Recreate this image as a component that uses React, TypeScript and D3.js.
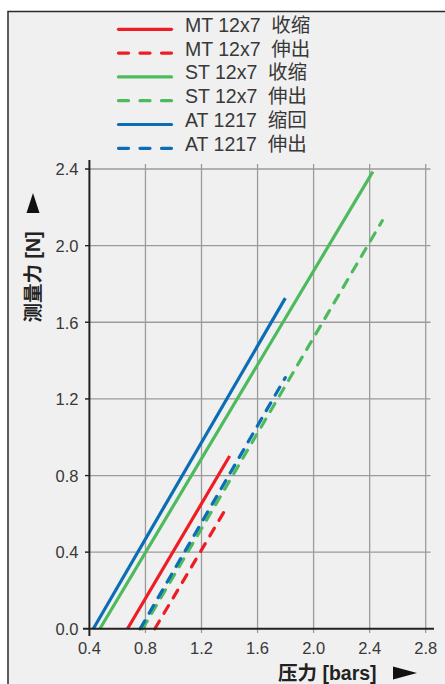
import React from "react";
import * as d3 from "d3";

const seriesNames = ["MT 12x7  收缩", "MT 12x7  伸出", "ST 12x7  收缩", "ST 12x7  伸出", "AT 1217  缩回", "AT 1217  伸出"];
const seriesColors = ["#ee1c25", "#ee1c25", "#4dba5e", "#4dba5e", "#0a6db5", "#0a6db5"];
const seriesDashed = [false, true, false, true, false, true];
const xStart = [0.672, 0.867, 0.475, 0.78, 0.428, 0.762];
const yStart = [0, 0, 0, 0, 0, 0];
const xEnd = [1.401, 1.378, 2.423, 2.49, 1.798, 1.798];
const yEnd = [0.902, 0.632, 2.386, 2.13, 1.726, 1.311];

const xTicks = [0.4, 0.8, 1.2, 1.6, 2.0, 2.4, 2.8];
const yTicks = [0.0, 0.4, 0.8, 1.2, 1.6, 2.0, 2.4];

const W = 445;
const H = 684;

export default function App() {
  const x = d3.scaleLinear().domain([0.4, 2.8]).range([89.4, 425.7]);
  const y = d3.scaleLinear().domain([0, 2.4]).range([628.8, 169]);
  const line = d3
    .line<[number, number]>()
    .x((d) => x(d[0]))
    .y((d) => y(d[1]));

  const font = "'Liberation Sans', Arial, sans-serif";
  const cjk = "'Liberation Sans', 'Noto Sans CJK SC', sans-serif";
  const gridColor = "#9b9b9b";
  const axisColor = "#222";
  const textColor = "#383838";

  const legendY = (i: number) => 29.3 + i * 23.8;

  return (
    <svg width={W} height={H} style={{ position: "absolute", left: 0, top: 0 }}>
      <rect x={0} y={0} width={W} height={H} fill="#fff" />
      <rect x={8} y={11.5} width={W + 10} height={H + 10} fill="#f0f0f0" stroke="#2a2a2a" strokeWidth={1.5} />

      {/* legend */}
      {seriesNames.map((name, i) => (
        <g key={name}>
          <line
            x1={118.5}
            x2={171.5}
            y1={legendY(i)}
            y2={legendY(i)}
            stroke={seriesColors[i]}
            strokeWidth={3.2}
            strokeLinecap="round"
            strokeDasharray={seriesDashed[i] ? "10 11.5" : undefined}
          />
          <text
            x={185}
            y={legendY(i) + 2.4}
            fontFamily={cjk}
            fontSize={19.5}
            fill={textColor}
            style={{ whiteSpace: "pre" }}
          >
            {name}
          </text>
        </g>
      ))}

      {/* grid */}
      {xTicks.slice(1).map((t) => (
        <line key={"vx" + t} x1={x(t)} x2={x(t)} y1={164} y2={633} stroke={gridColor} strokeWidth={1.3} />
      ))}
      {yTicks.slice(1).map((t) => (
        <line key={"hy" + t} x1={85} x2={430.5} y1={y(t)} y2={y(t)} stroke={gridColor} strokeWidth={1.3} />
      ))}
      {yTicks.slice(1).map((t) => (
        <line key={"ty" + t} x1={85} x2={89} y1={y(t)} y2={y(t)} stroke={axisColor} strokeWidth={1.3} />
      ))}

      {/* series */}
      {seriesNames.map((name, i) => (
        <path
          key={"s" + i}
          d={line([
            [xStart[i], yStart[i]],
            [xEnd[i], yEnd[i]],
          ]) || ""}
          fill="none"
          stroke={seriesColors[i]}
          strokeWidth={3.2}
          strokeLinecap={seriesDashed[i] ? "round" : "butt"}
          strokeDasharray={seriesDashed[i] ? "9 9" : undefined}
        />
      ))}

      {/* axes */}
      <line x1={x(0.4)} x2={x(0.4)} y1={160} y2={636} stroke={axisColor} strokeWidth={2} />
      <line x1={83} x2={434} y1={y(0)} y2={y(0)} stroke={axisColor} strokeWidth={2} />

      {/* tick labels */}
      {yTicks.map((t) => (
        <text
          key={"yl" + t}
          x={78.5}
          y={y(t) + 6.3}
          textAnchor="end"
          fontFamily={font}
          fontSize={16.5}
          fill={textColor}
        >
          {d3.format(".1f")(t)}
        </text>
      ))}
      {xTicks.map((t) => (
        <text
          key={"xl" + t}
          x={x(t)}
          y={653.5}
          textAnchor="middle"
          fontFamily={font}
          fontSize={16.5}
          fill={textColor}
        >
          {d3.format(".1f")(t)}
        </text>
      ))}

      {/* x axis title */}
      <text x={278} y={679.5} fontFamily={cjk} fontSize={19.5} fontWeight="bold" fill="#222">
        压力 [bars]
      </text>
      <path d="M393,666.5 L417,673 L393,679.5 Z" fill="#111" />

      {/* y axis title */}
      <text
        transform="translate(40,322.5) rotate(-90)"
        fontFamily={cjk}
        fontSize={19.5}
        fontWeight="bold"
        fill="#222"
      >
        测量力 [N]
      </text>
      <path d="M26.5,213 L33,193 L39.5,213 Z" fill="#111" />
    </svg>
  );
}
